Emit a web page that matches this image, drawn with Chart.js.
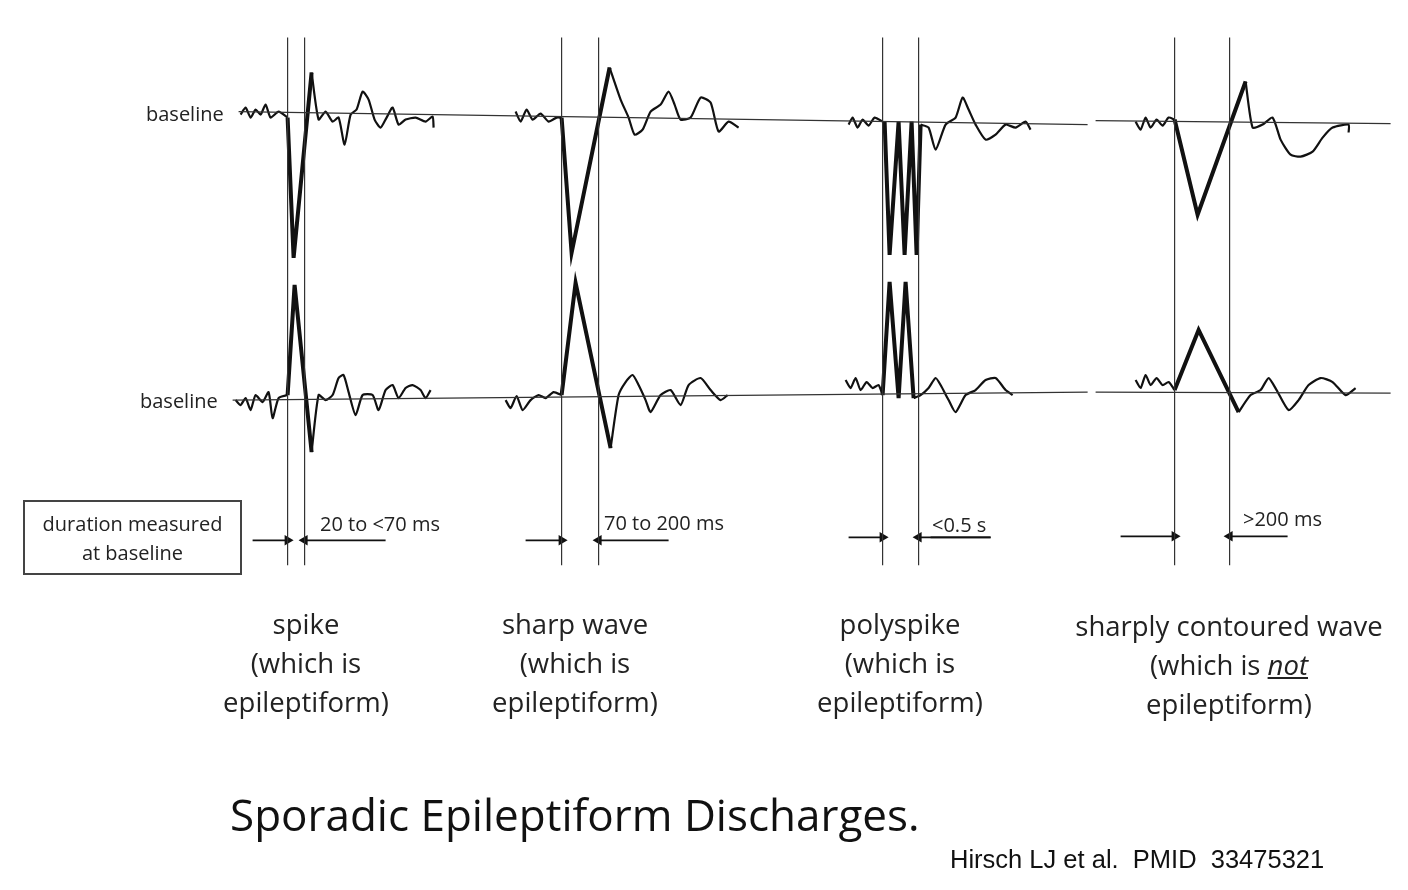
<!DOCTYPE html>
<html><head><meta charset="utf-8">
<script src="https://cdn.jsdelivr.net/npm/chart.js@4"></script>
<style>
body{margin:0;background:#fff;}
#wrap{position:relative;width:1408px;height:890px;}
canvas{position:absolute;left:0;top:0;}
.t{position:absolute;font-family:"Open Sans",sans-serif;color:#222;white-space:nowrap;}
.c{text-align:center;transform:translateX(-50%);line-height:39px;font-size:27.5px;}
</style></head><body>
<div id="wrap"><canvas id="c" width="1408" height="890"></canvas>
<div class="t" style="left:146px;top:100px;font-size:20px">baseline</div>
<div class="t" style="left:140px;top:387px;font-size:20px">baseline</div>
<div class="t" style="left:23px;top:500px;width:219px;height:75px;border:2px solid #444;font-size:20px;text-align:center;line-height:29px;padding-top:7px;box-sizing:border-box">duration measured<br>at baseline</div>
<div class="t" style="left:320px;top:510px;font-size:20px">20 to &lt;70 ms</div>
<div class="t" style="left:604px;top:509px;font-size:20px">70 to 200 ms</div>
<div class="t" style="left:932px;top:511px;font-size:20px">&lt;0.5 s</div>
<div class="t" style="left:1243px;top:505px;font-size:20px">&gt;200 ms</div>
<div class="t c" style="left:306px;top:604px">spike<br>(which is<br>epileptiform)</div>
<div class="t c" style="left:575px;top:604px">sharp wave<br>(which is<br>epileptiform)</div>
<div class="t c" style="left:900px;top:604px">polyspike<br>(which is<br>epileptiform)</div>
<div class="t c" style="left:1229px;top:606px">sharply contoured wave<br>(which is <i><u>not</u></i><br>epileptiform)</div>
<div class="t" style="left:230px;top:784px;font-size:44px;color:#111">Sporadic Epileptiform Discharges.</div>
<div class="t" style="left:950px;top:845px;font-size:25.5px;font-family:'Liberation Sans',Arial;color:#111">Hirsch LJ et al.&nbsp; PMID&nbsp; 33475321</div>
</div>
<script>
const P=a=>a.map(p=>({x:p[0],y:p[1]}));
// baselines
const baseTop1=[[238,112],[1087,125]], baseTop2=[[1095,121],[1390,124]];
const baseBot1=[[232,400],[1087,392]], baseBot2=[[1095,392],[1390,393]];
// vertical markers (x positions)
const markers=[287,304,561,598,882,918,1174,1229];
// thin squiggles
const thin=[
[[240,115],[245,108],[250,118],[255,110],[260,115],[265,105],[270,118],[278,112],[287,118]],
[[311,73],[318,120],[325,112],[332,122],[338,118],[344,145],[350,115],[356,110],[362,92],[368,100],[374,120],[380,128],[386,118],[392,108],[398,125],[405,120],[415,118],[425,122],[432,117],[433,128]],
[[235,400],[240,405],[245,398],[250,410],[255,395],[262,402],[268,392],[272,418],[278,398],[287,395]],
[[311,452],[318,395],[325,400],[332,395],[338,378],[343,375],[348,392],[355,415],[362,395],[372,395],[378,410],[385,390],[392,385],[398,398],[405,388],[412,385],[420,390],[425,398],[430,390]],
[[515,112],[520,122],[526,110],[532,120],[540,114],[548,122],[556,118],[561,118]],
[[609,68],[620,100],[628,118],[634,135],[642,130],[650,112],[660,105],[668,92],[674,105],[680,120],[690,118],[700,98],[710,103],[718,132],[728,122],[738,128]],
[[505,400],[510,408],[516,396],[522,410],[530,400],[538,395],[545,398],[553,392],[561,395]],
[[610,448],[618,395],[625,382],[632,375],[638,385],[645,400],[650,412],[660,395],[670,390],[680,405],[688,385],[700,378],[710,390],[720,400],[727,395]],
[[848,125],[852,118],[857,128],[862,120],[868,126],[874,118],[882,122]],
[[920,125],[928,128],[935,150],[945,125],[955,118],[962,98],[968,110],[975,125],[985,140],[995,135],[1005,125],[1015,128],[1025,122],[1030,130]],
[[845,380],[850,388],[855,378],[860,390],[866,382],[872,388],[878,385],[882,395]],
[[913,398],[920,395],[928,388],[935,378],[940,385],[948,400],[955,412],[965,395],[975,390],[985,380],[995,378],[1005,390],[1012,395]],
[[1135,122],[1140,130],[1145,118],[1150,128],[1156,120],[1162,126],[1168,118],[1174,120]],
[[1245,82],[1252,128],[1262,125],[1272,118],[1280,140],[1290,155],[1300,157],[1312,152],[1322,138],[1332,128],[1348,125],[1348,133]],
[[1135,380],[1140,388],[1145,375],[1150,385],[1156,378],[1162,385],[1168,382],[1174,390]],
[[1238,412],[1250,395],[1260,390],[1268,378],[1276,390],[1288,410],[1298,400],[1308,385],[1320,378],[1332,382],[1345,395],[1355,388]]
];
// thick discharges
const thick=[
[[287,118],[293,258],[311,73]],
[[287,395],[294,285],[311,452]],
[[561,118],[571,253],[609,68]],
[[561,395],[575,283],[610,448]],
[[884,122],[889,255],[898,122],[904,255],[911,122],[916,255],[920,125]],
[[882,395],[889,282],[898,398],[905,282],[913,398]],
[[1174,120],[1197,215],[1245,82]],
[[1174,390],[1198,330],[1238,412]]
];
// arrows [from, to, y]
const arrows=[[252,287,540],[385,304,540],[525,561,540],[668,598,540],[848,882,537],[990,918,537],[1120,1174,536],[1287,1229,536]];

const ds=[];
[baseTop1,baseTop2,baseBot1,baseBot2].forEach(b=>ds.push({data:P(b),showLine:true,borderColor:'#333',borderWidth:1.3,pointRadius:0}));
markers.forEach(x=>ds.push({data:P([[x,38],[x,565]]),showLine:true,borderColor:'#333',borderWidth:1.2,pointRadius:0}));
thin.forEach(t=>ds.push({data:P(t),showLine:true,borderColor:'#111',borderWidth:2.2,pointRadius:0,tension:0.2}));
thick.forEach(t=>ds.push({data:P(t),showLine:true,borderColor:'#111',borderWidth:4,pointRadius:0,borderJoinStyle:'miter'}));
arrows.forEach(a=>ds.push({data:P([[a[0],a[2]],[a[1],a[2]]]),showLine:true,borderColor:'#111',backgroundColor:'#111',borderWidth:1.8,
  pointStyle:'triangle',pointRadius:[0,6],rotation:a[1]>a[0]?90:-90,pointBorderWidth:0}));
ds.push({data:P([[930,537],[990,537]]),showLine:true,borderColor:'#111',borderWidth:1.8,pointRadius:0});

new Chart(document.getElementById('c'),{type:'scatter',data:{datasets:ds},
options:{responsive:false,animation:false,events:[],layout:{padding:0},
plugins:{legend:{display:false},tooltip:{enabled:false}},
scales:{x:{type:'linear',min:5.4,max:1401.4,display:false},y:{type:'linear',min:6.6,max:883.1,reverse:true,display:false}}}});
</script></body></html>
